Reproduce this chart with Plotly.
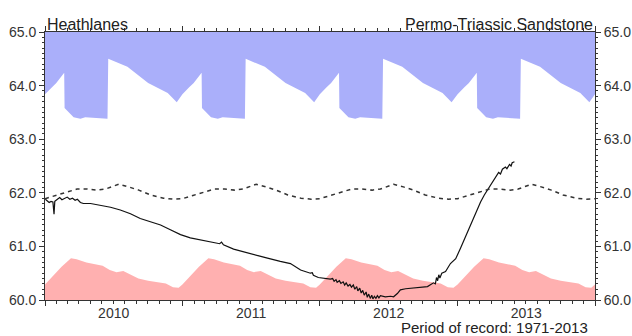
import pandas as pd
import plotly.graph_objects as go

# ---------------- data ----------------
YEARS = [2010, 2011, 2012, 2013]
START_DATE = "2010-01-01"
END_DATE = "2014-01-01"
Y_MIN, Y_MAX = 60.0, 65.0

# historic maximum envelope (day of year, level m AOD)
max_days = [0, 18, 30, 51, 52, 76, 94, 107, 166, 168, 196, 219, 274, 326, 350]
max_vals = [63.84, 63.97, 64.05, 64.24, 63.58, 63.41, 63.38, 63.41, 63.38, 64.50,
            64.42, 64.35, 64.05, 63.86, 63.69]

# historic minimum envelope
min_days = [0, 22, 44, 69, 84, 110, 128, 153, 172, 190, 208, 226, 248, 274, 299, 321, 340, 355]
min_vals = [60.29, 60.45, 60.62, 60.78, 60.76, 60.70, 60.67, 60.64, 60.56, 60.52,
            60.54, 60.48, 60.40, 60.36, 60.34, 60.31, 60.24, 60.23]

# long term average
mean_days = [0, 28, 59, 85, 112, 139, 161, 178, 196, 222, 249, 280, 315, 342]
mean_vals = [61.89, 61.95, 62.02, 62.07, 62.07, 62.05, 62.07, 62.11, 62.16, 62.11,
             62.05, 61.96, 61.90, 61.88]

# observed groundwater level
level_dates = [
    "2010-01-02", "2010-01-08", "2010-01-12", "2010-01-17", "2010-01-22", "2010-01-25",
    "2010-01-27", "2010-02-03", "2010-02-09", "2010-02-15", "2010-02-22", "2010-03-01",
    "2010-03-08", "2010-03-15", "2010-03-22", "2010-03-28", "2010-04-05", "2010-04-13",
    "2010-05-02", "2010-05-28", "2010-06-24", "2010-07-20", "2010-08-16", "2010-09-11",
    "2010-10-08", "2010-11-04", "2010-11-30", "2010-12-27", "2011-01-22", "2011-02-18",
    "2011-03-25", "2011-04-10", "2011-04-15", "2011-04-20", "2011-05-17", "2011-07-01",
    "2011-08-15", "2011-09-18", "2011-10-15", "2011-11-11", "2011-11-24", "2011-12-07",
    "2011-12-12", "2011-12-15", "2011-12-28", "2012-01-10", "2012-01-29",
    "2012-02-04", "2012-02-08", "2012-02-13", "2012-02-16", "2012-02-22", "2012-02-26",
    "2012-03-03", "2012-03-07", "2012-03-11", "2012-03-16", "2012-03-21", "2012-03-25",
    "2012-03-30", "2012-04-03", "2012-04-08", "2012-04-11", "2012-04-16", "2012-04-20",
    "2012-04-24", "2012-04-28", "2012-05-03", "2012-05-06", "2012-05-10", "2012-05-14",
    "2012-05-18", "2012-05-21", "2012-05-25", "2012-05-29", "2012-06-02", "2012-06-06",
    "2012-06-10", "2012-06-23", "2012-07-07", "2012-07-15", "2012-07-25", "2012-08-02",
    "2012-08-16", "2012-09-06", "2012-09-24", "2012-10-13", "2012-10-29", "2012-11-03",
    "2012-11-06", "2012-11-09", "2012-11-12", "2012-11-15", "2012-11-20", "2012-11-30",
    "2012-12-13", "2012-12-27", "2013-01-09", "2013-01-20", "2013-02-04", "2013-02-17",
    "2013-03-03", "2013-03-13", "2013-03-26", "2013-04-11", "2013-04-20", "2013-04-25",
    "2013-04-30", "2013-05-08", "2013-05-12", "2013-05-19", "2013-05-23", "2013-05-26",
    "2013-06-01",
]
level_vals = [
    61.88, 61.85, 61.82, 61.84, 61.83, 61.60,
    61.84, 61.88, 61.91, 61.87, 61.89, 61.92,
    61.88, 61.90, 61.86, 61.88, 61.82, 61.80,
    61.80, 61.77, 61.73, 61.68, 61.61, 61.52,
    61.46, 61.40, 61.31, 61.22, 61.16, 61.12,
    61.06, 61.05, 61.08, 61.03, 60.95, 60.86,
    60.78, 60.72, 60.68, 60.56, 60.53, 60.50,
    60.51, 60.46, 60.42, 60.41, 60.39,
    60.40, 60.35, 60.38, 60.33, 60.36, 60.31,
    60.34, 60.28, 60.32, 60.26, 60.29, 60.24,
    60.28, 60.20, 60.25, 60.17, 60.22, 60.13,
    60.18, 60.09, 60.15, 60.05, 60.11, 60.03,
    60.09, 60.02, 60.07, 60.03, 60.08, 60.04,
    60.08, 60.06, 60.07, 60.06, 60.12, 60.19,
    60.21, 60.22, 60.23, 60.25, 60.32, 60.30,
    60.42, 60.36, 60.47, 60.41, 60.50, 60.53,
    60.68, 60.77, 60.97, 61.15, 61.40, 61.62,
    61.83, 61.96, 62.11, 62.30, 62.38, 62.35,
    62.44, 62.48, 62.45, 62.53, 62.50, 62.56,
    62.58,
]

TITLE_LEFT = "Heathlanes"
TITLE_RIGHT = "Permo-Triassic Sandstone"
FOOTER = "Period of record: 1971-2013"


def tile(days, vals):
    xs, ys = [], []
    for yr in YEARS:
        start = pd.Timestamp(f"{yr}-01-01")
        for d, v in zip(days, vals):
            xs.append(start + pd.Timedelta(days=d))
            ys.append(v)
    xs.append(pd.Timestamp(END_DATE))
    ys.append(vals[0])
    return xs, ys


mx_x, mx_y = tile(max_days, max_vals)
mn_x, mn_y = tile(min_days, min_vals)
me_x, me_y = tile(mean_days, mean_vals)

BLUE = "rgb(170,175,250)"
PINK = "rgb(255,176,176)"

fig = go.Figure()
# top of chart boundary for the max fill
fig.add_trace(go.Scatter(x=[pd.Timestamp(START_DATE), pd.Timestamp(END_DATE)],
                         y=[Y_MAX, Y_MAX], mode="lines", line=dict(width=0),
                         hoverinfo="skip"))
fig.add_trace(go.Scatter(x=mx_x, y=mx_y, mode="lines", line=dict(width=0),
                         fill="tonexty", fillcolor=BLUE, hoverinfo="skip"))
fig.add_trace(go.Scatter(x=mn_x, y=mn_y, mode="lines", line=dict(width=0),
                         fill="tozeroy", fillcolor=PINK, hoverinfo="skip"))
fig.add_trace(go.Scatter(x=me_x, y=me_y, mode="lines", yaxis="y2",
                         line=dict(color="#333333", width=1.5, dash="4px,4px")))
fig.add_trace(go.Scatter(x=pd.to_datetime(level_dates), y=level_vals, mode="lines",
                         line=dict(color="#111111", width=1.2)))

axis_col = "#333333"
yax = dict(range=[Y_MIN, Y_MAX], dtick=1, tickformat=".1f", ticks="outside",
           ticklen=5, tickcolor=axis_col, showline=True, linecolor=axis_col,
           linewidth=1, showgrid=False, zeroline=False, automargin=False,
           minor=dict(dtick=0.1, ticks="outside", ticklen=2, tickcolor=axis_col,
                      showgrid=False),
           tickfont=dict(size=14, color="#333333"))

fig.update_layout(
    width=632, height=336,
    margin=dict(l=45, r=37, t=32, b=36, autoexpand=False),
    plot_bgcolor="white", paper_bgcolor="white",
    showlegend=False,
    font=dict(family="Liberation Sans, Arial, sans-serif", size=14, color="#222222"),
    xaxis=dict(type="date", range=[START_DATE, END_DATE], dtick="M12",
               tick0=START_DATE, ticklabelmode="period", tickformat="%Y",
               ticks="outside", ticklen=5, tickcolor=axis_col, showline=True,
               linecolor=axis_col, linewidth=1, mirror="ticks", showgrid=False,
               zeroline=False, automargin=False, ticklabelstandoff=-5,
               minor=dict(dtick="M1", ticks="outside", ticklen=3, tickcolor=axis_col,
                          showgrid=False),
               tickfont=dict(size=14, color="#333333")),
    yaxis=yax,
    yaxis2=dict(yax, overlaying="y", side="right", matches="y"),
    annotations=[
        dict(text=TITLE_LEFT, xref="paper", yref="paper", x=0, y=1,
             xanchor="left", yanchor="bottom", showarrow=False, yshift=-3,
             font=dict(size=16, color="#222222")),
        dict(text=TITLE_RIGHT, xref="paper", yref="paper", x=1, y=1,
             xanchor="right", yanchor="bottom", showarrow=False, yshift=-3,
             font=dict(size=16, color="#222222")),
        dict(text=FOOTER, xref="paper", yref="paper", x=1, y=0,
             xanchor="right", yanchor="top", showarrow=False, yshift=-17, xshift=-5,
             font=dict(size=15, color="#222222")),
    ],
)

fig.write_html("out.html")
